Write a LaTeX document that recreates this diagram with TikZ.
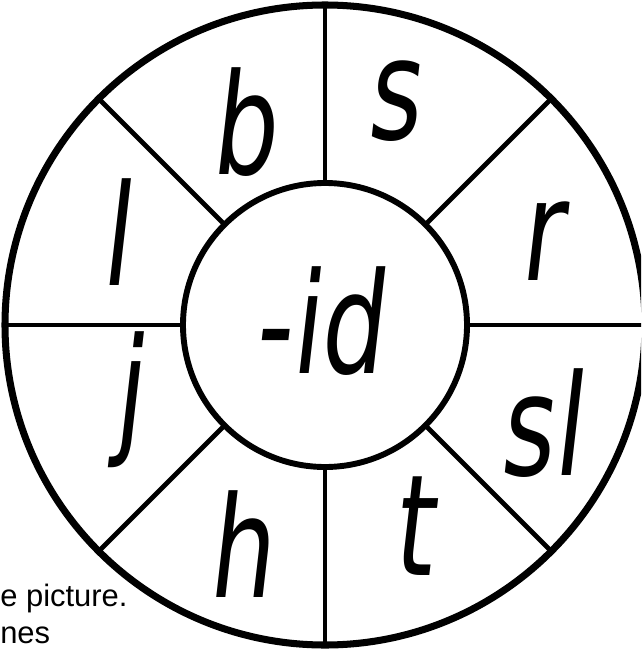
\documentclass[tikz,border=0pt]{standalone}
\usepackage{fontspec}
\setmainfont{Liberation Sans}
\newfontfamily\wheelfont{DejaVu Sans}
\usetikzlibrary{calc,positioning}
\definecolor{WheelInk}{HTML}{000000}
\tikzset{
  every node/.style={text=WheelInk},
  rim/.style={draw=WheelInk, line width=5pt},
  hub/.style={draw=WheelInk, line width=4.2pt, fill=white},
  spoke/.style={draw=WheelInk, line width=3.4pt},
  onset/.style={font=\wheelfont\fontsize{100}{100}\selectfont, anchor=base, inner sep=0pt, xscale=0.72, xslant=0.16},
  rime/.style={font=\wheelfont\fontsize{100}{100}\selectfont, anchor=base, inner sep=0pt, xscale=0.72, xslant=0.16},
  note/.style={font=\fontsize{22}{24}\selectfont, anchor=base west, inner sep=0pt},
}

\begin{document}
\begin{tikzpicture}[x=0.025cm,y=-0.025cm]
  \useasboundingbox (0,0) rectangle (641,649);
  \clip (0,0) rectangle (641,649);
  \coordinate (c) at (325,325);
  % wheel
  \draw[rim] (c) circle (320);
  \foreach \a in {0,45,...,315}
    \draw[spoke] ($(c)+(\a:142)$) -- ($(c)+(\a:320)$);
  \draw[hub] (c) circle (142);
  % middle
  \node[rime] (id) at (318,373) {-id};
  % letters round the rim
  \node[onset] (b) at (243,175) {b};
  \node[onset] (s) at (393,140) {s};
  \node[onset] (r) at (540,280) {r};
  \node[onset] (sl) at (540,475) {sl};
  \node[onset] (t) at (412,575) {t};
  \node[onset] (h) at (240,597) {h};
  \node[onset] (j) at (128,438) {j};
  \node[onset] (l) at (115,285) {l};
  % text at the edge
  \node[note] (pic) at (0,606) {e picture.};
  \node[note] (nes) at (0,643) {nes};
\end{tikzpicture}
\end{document}
